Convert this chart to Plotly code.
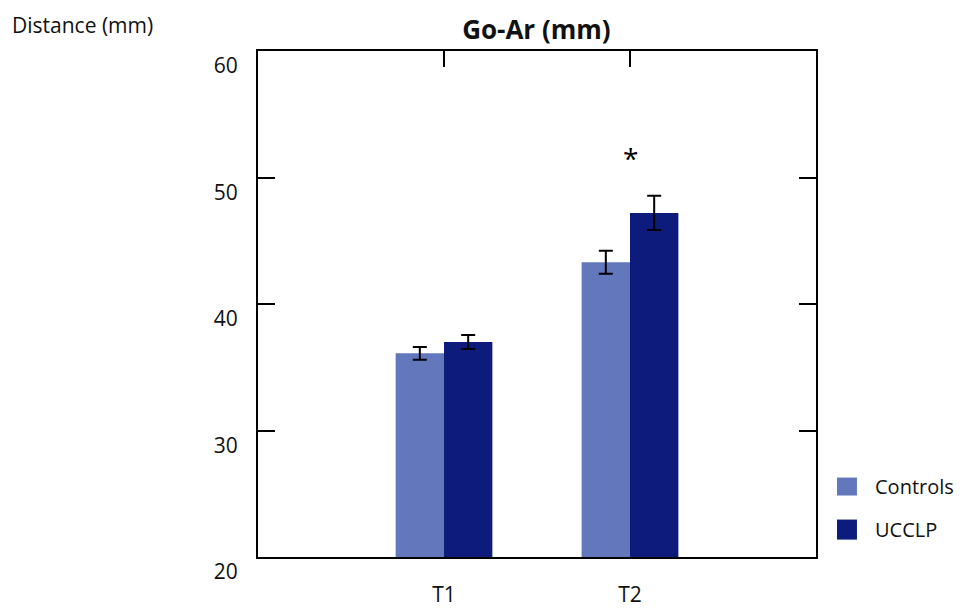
import plotly.graph_objects as go

# Go-Ar distance by time point and group
timepoints = ["T1", "T2"]
groups = ["Controls", "UCCLP"]
controls_mean = [36.1, 43.3]
controls_err = [0.5, 0.9]
ucclp_mean = [37.0, 47.2]
ucclp_err = [0.55, 1.35]
y_ticks = [20, 30, 40, 50, 60]
signif_label = "*"
signif_at = ("T2", 51.8)

colors = {"Controls": "#6377bd", "UCCLP": "#0d1c7c"}
FONT = "Open Sans"

fig = go.Figure()
for name, means, errs in [("Controls", controls_mean, controls_err),
                          ("UCCLP", ucclp_mean, ucclp_err)]:
    fig.add_trace(go.Bar(
        x=timepoints, y=means, name=name,
        marker=dict(color=colors[name], line=dict(width=0)),
        error_y=dict(type="data", array=errs, visible=True,
                     color="black", thickness=2, width=7),
        showlegend=False,
    ))

# significance marker
fig.add_annotation(x=signif_at[0], y=signif_at[1], text=signif_label,
                   showarrow=False, font=dict(family=FONT, size=28, color="black"),
                   yshift=-3)

# legend drawn as swatches + labels at the right of the plot
swatch_y = {"Controls": (0.1215, 0.157), "UCCLP": (0.0344, 0.074)}
for name in groups:
    y0, y1 = swatch_y[name]
    fig.add_shape(type="rect", xref="paper", yref="paper",
                  x0=1.0376, x1=1.0734, y0=y0, y1=y1,
                  fillcolor=colors[name], line=dict(width=0))
    fig.add_annotation(xref="paper", yref="paper", x=1.103, y=(y0 + y1) / 2,
                       xanchor="left", yanchor="middle", text=name, showarrow=False,
                       font=dict(family=FONT, size=20, color="#111"))

# y-axis caption in the top-left corner
fig.add_annotation(xref="paper", yref="paper", x=-0.444, y=1.0, yshift=26,
                   xanchor="left", yanchor="middle", text="Distance (mm)",
                   showarrow=False, font=dict(family=FONT, size=21, color="#111"))

fig.update_layout(
    width=963, height=610,
    margin=dict(l=258, r=147, t=51, b=53, autoexpand=False),
    paper_bgcolor="white", plot_bgcolor="white",
    barmode="group", bargap=0.48, bargroupgap=0,
    title=dict(text="<b>Go-Ar (mm)</b>", x=0.557, xanchor="center",
               y=1 - 30 / 610, yanchor="middle",
               font=dict(family=FONT, size=26, color="#111"),
               automargin=False),
    font=dict(family=FONT, color="#111"),
)
fig.update_xaxes(
    range=[-1, 2], showline=True, linecolor="black", linewidth=2, mirror="ticks",
    ticks="inside", ticklen=16, tickwidth=2, tickcolor="black",
    showgrid=False, zeroline=False, layer="below traces", automargin=False,
    tickfont=dict(family=FONT, size=21, color="#111"), ticklabelstandoff=18,
)
fig.update_yaxes(
    range=[20, 60], tickvals=y_ticks, showline=True, linecolor="black", linewidth=2,
    mirror="ticks", ticks="inside", ticklen=17, tickwidth=1.5, tickcolor="black",
    showgrid=False, zeroline=False, automargin=False,
    tickfont=dict(family=FONT, size=21, color="#111"),
    ticklabelshift=15, ticklabelstandoff=14,
)

fig.write_html("out.html")
